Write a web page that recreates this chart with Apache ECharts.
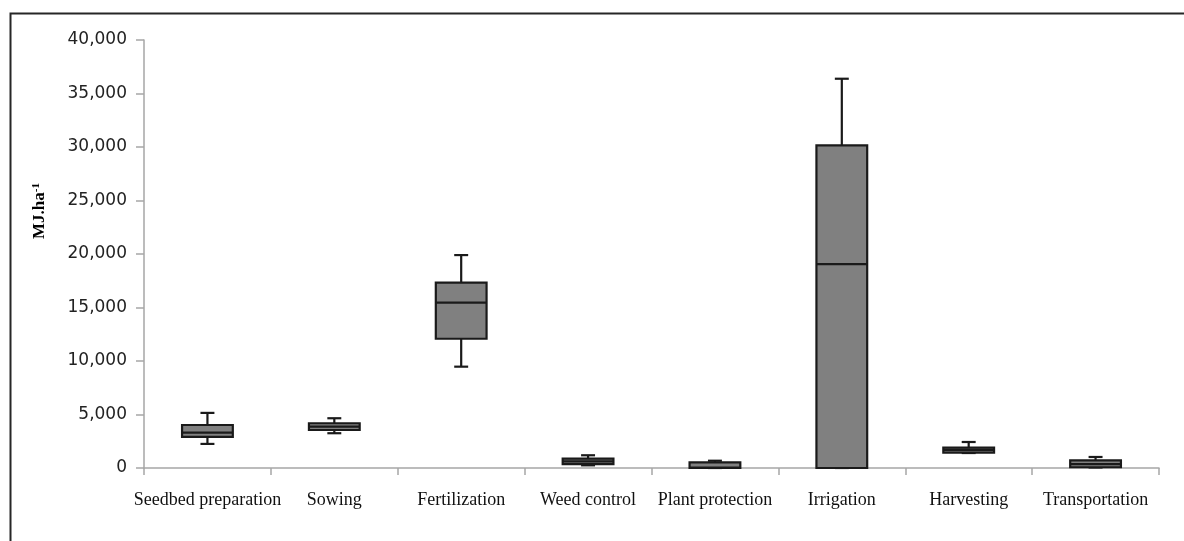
<!DOCTYPE html>
<html>
<head>
<meta charset="utf-8">
<style>
html,body{margin:0;padding:0;background:#fff;}
#chart{width:1184px;height:541px;}
</style>
<script src="https://cdn.jsdelivr.net/npm/echarts@6/dist/echarts.min.js"></script>
</head>
<body>
<div id="chart"></div>
<script>
const categories = ['Seedbed preparation','Sowing','Fertilization','Weed control','Plant protection','Irrigation','Harvesting','Transportation'];
const minValues    = [2250, 3250, 9470, 250, 0, 0, 1400, 50];
const q1Values     = [2900, 3550, 12080, 370, 0, 0, 1430, 70];
const medianValues = [3300, 3860, 15450, 620, 30, 19060, 1700, 370];
const q3Values     = [4020, 4180, 17320, 870, 530, 30160, 1900, 720];
const maxValues    = [5150, 4650, 19900, 1190, 680, 36380, 2430, 1030];
const yTicks = { min: 0, max: 40000, interval: 5000 };

const data = categories.map((c, i) => [i, minValues[i], q1Values[i], medianValues[i], q3Values[i], maxValues[i]]);

const chart = echarts.init(document.getElementById('chart'));
const stroke = '#1a1a1a';

chart.setOption({
  backgroundColor: '#fff',
  animation: false,
  grid: { left: 144, right: 25, top: 40, bottom: 73 },
  xAxis: {
    type: 'category',
    data: categories,
    boundaryGap: true,
    axisLine: { lineStyle: { color: '#a6a6a6', width: 1.5 } },
    axisTick: { show: true, length: 7, lineStyle: { color: '#a6a6a6', width: 1.5 } },
    axisLabel: { interval: 0, margin: 23, color: '#111', fontFamily: 'Liberation Serif', fontSize: 18 },
    splitLine: { show: false }
  },
  yAxis: {
    type: 'value',
    min: yTicks.min, max: yTicks.max, interval: yTicks.interval,
    axisLine: { show: true, lineStyle: { color: '#a6a6a6', width: 1.5 } },
    axisTick: { show: true, length: 8, lineStyle: { color: '#a6a6a6', width: 1.5 } },
    axisLabel: {
      margin: 17, color: '#222', fontFamily: 'DejaVu Sans', fontSize: 17,
      formatter: v => v.toLocaleString('en-US')
    },
    splitLine: { show: false }
  },
  graphic: [
    { type: 'rect', left: 8, top: 11, silent: true, z: -1,
      shape: { width: 1200, height: 600 },
      style: { fill: 'none', stroke: '#262626', lineWidth: 2 } },
    { type: 'text', x: 40, y: 211, rotation: Math.PI / 2, silent: true,
      style: {
        text: '{a|MJ.ha}{b|-1}',
        align: 'center', verticalAlign: 'middle',
        rich: {
          a: { fontFamily: 'Liberation Serif', fontWeight: 'bold', fontSize: 17, fill: '#000', color: '#000' },
          b: { fontFamily: 'Liberation Serif', fontWeight: 'bold', fontSize: 11, fill: '#000', color: '#000', verticalAlign: 'top', padding: [0, 0, 8, 0] }
        }
      } }
  ],
  series: [{
    type: 'custom',
    data: data,
    encode: { x: 0, y: [1, 2, 3, 4, 5] },
    renderItem: function (params, api) {
      const x = api.value(0);
      const pMin = api.coord([x, api.value(1)]);
      const pQ1 = api.coord([x, api.value(2)]);
      const pMed = api.coord([x, api.value(3)]);
      const pQ3 = api.coord([x, api.value(4)]);
      const pMax = api.coord([x, api.value(5)]);
      const band = api.size([1, 0])[0];
      const bw = band * 0.4;
      const cw = band * 0.11;
      const cx = pMed[0];
      const ls = { stroke: stroke, lineWidth: 2.2 };
      return {
        type: 'group',
        children: [
          { type: 'line', shape: { x1: cx, y1: pQ3[1], x2: cx, y2: pMax[1] }, style: ls },
          { type: 'line', shape: { x1: cx - cw / 2, y1: pMax[1], x2: cx + cw / 2, y2: pMax[1] }, style: ls },
          { type: 'line', shape: { x1: cx, y1: pQ1[1], x2: cx, y2: pMin[1] }, style: ls },
          { type: 'line', shape: { x1: cx - cw / 2, y1: pMin[1], x2: cx + cw / 2, y2: pMin[1] }, style: ls },
          { type: 'rect', shape: { x: cx - bw / 2, y: pQ3[1], width: bw, height: pQ1[1] - pQ3[1] },
            style: { fill: '#808080', stroke: stroke, lineWidth: 2.2 } },
          { type: 'line', shape: { x1: cx - bw / 2, y1: pMed[1], x2: cx + bw / 2, y2: pMed[1] }, style: ls }
        ]
      };
    }
  }]
});
</script>
</body>
</html>
